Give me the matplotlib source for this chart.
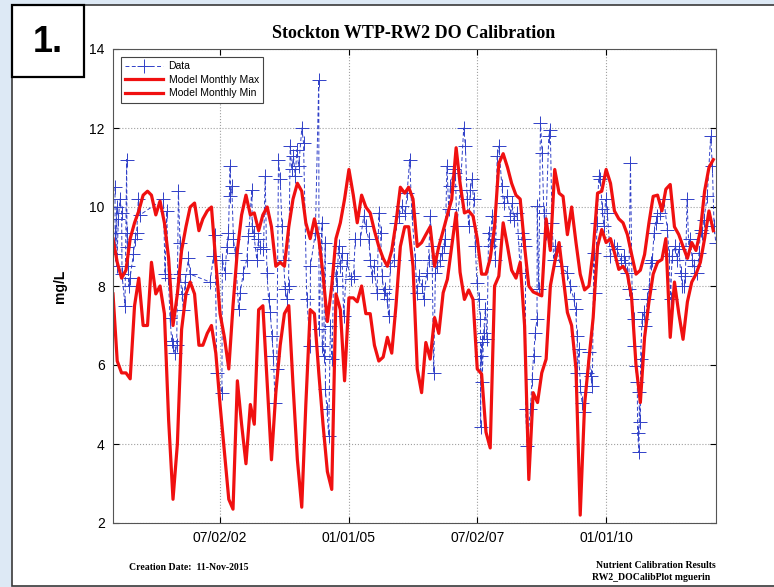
import numpy as np
import pandas as pd
import matplotlib
matplotlib.use('Agg')
import matplotlib.pyplot as plt
import matplotlib.dates as mdates
from matplotlib.patches import Rectangle

plt.rcParams['font.family'] = ['Liberation Sans', 'DejaVu Sans']

# monthly model output, first month = 2000-06
model_start = '2000-06-01'
model_max = [9.2, 8.6, 8.2, 8.4, 9.2, 9.6, 9.9, 10.3, 10.4, 10.3,
             9.8, 10.15, 9.6, 8.7, 7.0, 7.8, 8.9, 9.5, 10.0, 10.1,
             9.4, 9.7, 9.9, 10.0, 8.6, 7.3, 6.7, 5.9, 7.5, 8.9,
             9.8, 10.3, 9.8, 9.85, 9.4, 9.8, 10.0, 9.5, 8.5, 8.6,
             8.5, 9.5, 10.2, 10.6, 10.4, 9.6, 9.2, 9.7, 9.2, 8.3,
             7.1, 8.0, 9.2, 9.6, 10.2, 10.95, 10.3, 9.6, 10.3, 10.0,
             9.85, 9.4, 9.0, 8.7, 8.5, 8.9, 9.6, 10.5, 10.35, 10.5,
             10.2, 9.0, 9.1, 9.3, 9.5, 8.5, 9.0, 9.4, 9.8, 10.2,
             11.5, 10.6, 9.85, 9.9, 9.77, 9.2, 8.3, 8.3, 8.7, 9.5,
             11.1, 11.35, 11.0, 10.6, 10.3, 10.2, 9.0, 8.0, 7.85, 7.8,
             7.75, 9.7, 8.9, 10.95, 10.35, 10.27, 9.3, 10.0, 9.1, 8.3,
             7.9, 8.0, 8.9, 10.35, 10.4, 10.95, 10.6, 9.9, 9.7, 9.6,
             9.3, 8.8, 8.3, 8.4, 8.8, 9.6, 10.27, 10.3, 9.9, 10.45,
             10.57, 9.5, 9.3, 9.0, 8.7, 9.1, 8.9, 9.4, 10.4, 11.0,
             11.2]
model_min = [7.8, 6.1, 5.8, 5.8, 5.65, 7.5, 8.2, 7.0, 7.0, 8.6,
             7.8, 8.0, 7.3, 4.6, 2.6, 4.0, 6.9, 7.8, 8.1, 7.8,
             6.5, 6.5, 6.8, 7.0, 6.3, 5.0, 3.8, 2.6, 2.35, 5.6,
             4.5, 3.5, 5.0, 4.5, 7.4, 7.5, 5.5, 3.6, 5.3, 6.5,
             7.3, 7.5, 5.5, 3.6, 2.4, 5.0, 7.4, 7.3, 5.8, 4.5,
             3.3, 2.85, 7.8, 7.4, 5.6, 7.7, 7.7, 7.6, 8.0, 7.3,
             7.3, 6.5, 6.1, 6.2, 6.7, 6.3, 7.5, 9.0, 9.5, 9.5,
             8.5, 5.9, 5.3, 6.57, 6.15, 7.2, 6.8, 7.83, 8.17, 9.0,
             9.85, 8.35, 7.66, 7.9, 7.66, 5.9, 5.77, 4.3, 3.9, 8.0,
             8.25, 9.6, 9.0, 8.4, 8.2, 8.6, 7.0, 3.1, 5.3, 5.05,
             5.8, 6.15, 8.0, 8.6, 9.1, 8.25, 7.33, 7.0, 5.9, 2.2,
             5.0, 6.15, 7.2, 9.0, 9.43, 9.1, 9.2, 8.85, 8.42, 8.5,
             8.3, 7.7, 6.0, 5.05, 6.7, 7.6, 8.3, 8.6, 8.67, 9.2,
             6.7, 8.1, 7.3, 6.65, 7.6, 8.1, 8.3, 8.6, 9.2, 9.9,
             9.4]

# observed DO, time in months after 2000-06-01
data_month = [0.47, 0.5, 0.55, 0.86, 0.9, 1.25, 1.63, 2.02, 2.1, 2.8,
              3.19, 3.25, 3.3, 3.58, 3.65, 3.97, 4.75, 5.14, 5.52, 5.91,
              6.3, 11.75, 12.14, 12.53, 12.92, 13.3, 13.7, 14.1, 14.5, 14.86,
              15.25, 15.64, 15.7, 16.03, 16.42, 16.8, 17.6, 17.98, 22.65, 23.43,
              23.8, 24.2, 25.4, 25.5, 26.15, 26.54, 26.93, 27.32, 27.4, 27.7,
              28.1, 28.5, 29.3, 29.65, 30.43, 31.2, 31.6, 32.4, 32.45, 32.8,
              33.55, 33.93, 34.3, 35.1, 35.5, 35.9, 36.3, 36.7, 37.05, 37.4,
              37.8, 38.2, 38.6, 39.0, 39.4, 39.77, 40.16, 40.55, 40.94, 41.33,
              41.7, 42.1, 42.5, 42.9, 43.3, 44.05, 44.44, 45.2, 46.0, 46.05,
              47.2, 48.0, 48.05, 48.75, 48.8, 49.1, 49.5, 49.55, 49.9, 50.3,
              50.7, 51.1, 51.5, 51.9, 52.25, 52.6, 53.0, 53.4, 53.8, 54.6,
              55.4, 56.1, 56.5, 57.7, 58.5, 58.9, 59.65, 60.0, 60.4, 60.8,
              61.6, 62.0, 62.4, 62.8, 63.15, 63.5, 63.9, 64.3, 64.7, 65.5,
              65.9, 66.65, 67.4, 68.2, 68.6, 69.2, 69.7, 70.5, 70.9, 71.3,
              72.07, 72.45, 73.2, 73.6, 74.0, 74.4, 74.8, 75.2, 75.6, 76.35,
              76.7, 77.1, 77.5, 77.9, 78.3, 78.7, 79.5, 79.85, 80.2, 81.0,
              81.8, 82.2, 82.6, 82.96, 83.35, 83.7, 84.1, 84.5, 84.9, 85.3,
              85.7, 85.75, 85.8, 86.07, 86.1, 86.46, 86.85, 87.24, 87.6, 88.0,
              88.4, 88.8, 89.2, 89.6, 90.0, 90.7, 91.1, 91.9, 92.7, 93.1,
              93.5, 94.25, 95.0, 95.4, 95.8, 96.2, 96.25, 96.6, 97.36, 97.75,
              98.1, 98.5, 98.9, 98.95, 99.3, 99.7, 100.1, 100.5, 100.9, 101.64,
              102.0, 102.4, 102.8, 103.2, 104.4, 105.9, 106.7, 107.5, 107.9, 108.25,
              108.3, 108.6, 109.0, 109.4, 109.8, 110.2, 110.6, 111.0, 111.4, 111.8,
              112.15, 112.5, 112.9, 113.3, 113.7, 114.1, 114.5, 114.9, 115.3, 116.0,
              116.8, 117.6, 118.4, 119.15, 119.5, 119.9, 120.3, 120.7, 121.1, 121.5,
              121.55, 121.9, 122.3, 122.35, 122.7, 122.75, 123.0, 123.05, 123.4, 123.8,
              124.2, 124.6, 125.0, 125.4, 125.8, 126.2, 126.55, 126.9, 127.7, 128.5,
              129.3, 129.7, 130.05, 130.4, 131.2, 131.6, 132.0, 132.4, 132.8, 133.2,
              133.5, 133.9, 134.3, 134.7, 135.1, 135.5, 136.3, 136.7, 137.05, 137.4,
              137.8, 138.6, 139.4, 139.8, 140.2, 140.6]
data_do = [10.5, 9.35, 8.8, 10.0, 8.5, 9.7, 10.2, 9.85, 8.3, 7.5,
           11.2, 9.35, 9.0, 8.5, 8.0, 8.2, 8.8, 9.2, 9.35, 10.2,
           9.8, 10.2, 8.3, 9.9, 8.2, 7.2, 6.6, 6.5, 6.3, 6.5,
           10.4, 9.1, 8.3, 7.8, 7.4, 8.1, 8.7, 8.3, 8.1, 8.76,
           9.3, 5.8, 5.3, 8.67, 8.34, 9.0, 9.35, 11.03, 10.27, 10.53,
           9.18, 8.84, 7.41, 7.83, 8.34, 8.67, 9.26, 10.44, 9.52, 9.35,
           8.67, 9.18, 9.0, 8.93, 10.78, 8.34, 7.66, 7.33, 6.74, 6.23,
           5.05, 5.9, 11.2, 10.7, 9.52, 8.67, 7.92, 7.66, 8.0, 11.54,
           10.95, 11.28, 10.78, 11.45, 11.03, 12.0, 11.62, 7.66, 6.48, 8.5,
           9.35, 13.22, 6.9, 9.6, 6.48, 6.23, 9.09, 5.39, 4.88, 4.21,
           6.99, 6.15, 8.59, 8.25, 8.0, 9.01, 8.5, 8.84, 7.24, 8.67,
           8.17, 8.25, 9.18, 9.18, 9.77, 9.52, 9.18, 8.67, 8.25, 8.5,
           7.83, 9.85, 9.35, 8.25, 7.83, 7.92, 7.66, 7.24, 8.5, 8.67,
           9.6, 9.77, 10.02, 9.85, 10.36, 11.2, 9.85, 8.67, 7.83, 8.25,
           8.0, 7.66, 8.34, 8.67, 9.77, 9.01, 5.81, 8.34, 8.5, 8.67,
           8.84, 9.01, 9.18, 11.03, 9.94, 10.53, 10.95, 10.86, 9.52, 10.44,
           12.0, 11.54, 10.19, 9.52, 10.44, 10.7, 10.19, 9.01, 8.08, 7.66,
           7.16, 4.42, 6.23, 6.57, 5.56, 6.82, 7.41, 6.65, 9.35, 9.01,
           9.77, 9.18, 8.67, 11.28, 11.54, 10.53, 10.1, 10.27, 9.77, 10.1,
           9.68, 9.85, 8.34, 9.35, 9.18, 9.01, 4.88, 3.96, 4.88, 5.64,
           6.23, 6.82, 7.16, 10.02, 7.92, 12.13, 11.37, 9.85, 9.35, 11.79,
           11.96, 9.6, 8.67, 9.01, 8.5, 8.34, 8.0, 7.66, 7.41, 6.74,
           5.81, 6.4, 5.47, 5.05, 4.8, 5.31, 5.81, 6.32, 5.73, 5.47,
           8.84, 7.83, 9.6, 10.78, 10.7, 9.94, 9.52, 10.19, 9.85, 8.76,
           9.01, 8.93, 8.67, 8.76, 8.59, 8.34, 7.92, 11.12, 7.66, 7.16,
           6.48, 5.98, 5.56, 4.29, 3.79, 5.31, 4.55, 6.15, 7.16, 7.33,
           6.99, 7.66, 7.92, 8.59, 8.67, 9.35, 9.6, 9.77, 9.85, 10.19,
           9.43, 8.76, 7.66, 8.76, 9.01, 8.67, 8.93, 8.34, 8.0, 8.0,
           8.25, 10.19, 9.01, 9.18, 8.67, 8.5, 8.34, 8.84, 9.43, 9.35,
           9.68, 10.27, 11.79, 11.03, 9.52, 9.1]

tick_dates = ['2002-07-02', '2005-01-01', '2007-07-02', '2010-01-01']

start = pd.Timestamp(model_start)
model_dates = pd.date_range(start, periods=len(model_max), freq='MS')
data_dates = start + pd.to_timedelta(np.array(data_month) * 30.4375, unit='D')

W, H = 774, 587
fig = plt.figure(figsize=(W / 100, H / 100), dpi=100)
fig.patch.set_facecolor('#dde9f5')

# white page with the "1." tag box (behind the axes)
fig.add_artist(Rectangle((12 / W, 1 / H), 770 / W, 581 / H, transform=fig.transFigure,
                         facecolor='white', edgecolor='#3a3a3a', lw=1.2, zorder=-2))
fig.add_artist(Rectangle((12 / W, 1 - 77 / H), 72 / W, 72 / H, transform=fig.transFigure,
                         facecolor='white', edgecolor='black', lw=1.6, zorder=-1))
fig.text(48 / W, 1 - 42 / H, '1.', ha='center', va='center', fontsize=26, fontweight='bold')

ax = fig.add_axes([113 / W, 1 - 523 / H, 603 / W, 474 / H])

blue = '#3040c8'
ax.plot(data_dates, data_do, linestyle='--', dashes=(4, 2.5), color=blue, lw=0.7,
        marker='+', markersize=10, markeredgewidth=0.7, label='Data')
ax.plot(model_dates, model_max, color='#f01010', lw=2.3, label='Model Monthly Max')
ax.plot(model_dates, model_min, color='#f01010', lw=2.3, label='Model Monthly Min')

ax.set_ylim(2, 14)
ax.set_yticks(range(2, 15, 2))
ax.set_xlim(pd.Timestamp('2000-06-01'), pd.Timestamp('2012-02-20'))
ax.set_xticks(pd.to_datetime(tick_dates))
ax.xaxis.set_major_formatter(mdates.DateFormatter('%m/%d/%y'))
ax.tick_params(direction='in', top=True, right=True, length=4, labelsize=10, pad=6)
ax.grid(True, linestyle=':', color='#a0a0a0', lw=0.8)
for sp in ax.spines.values():
    sp.set_color('#555555')
    sp.set_linewidth(0.8)

ax.set_ylabel('mg/L', fontsize=10, fontweight='bold')
ax.yaxis.set_label_coords(-0.076, 0.5)

leg = ax.legend(loc='upper left', bbox_to_anchor=(7.7 / 603, 1 - 8 / 474), borderaxespad=0,
                fontsize=7.5, fancybox=False, edgecolor='#444444', framealpha=1,
                handlelength=3.7, labelspacing=0.35, borderpad=0.4, handletextpad=0.5)
leg.get_frame().set_linewidth(0.8)

fig.text(414 / W, 1 - 33 / H, 'Stockton WTP-RW2 DO Calibration', ha='center', va='center',
         fontfamily='Liberation Serif', fontweight='bold', fontsize=13)
fig.text(129 / W, 1 - 567 / H, 'Creation Date:  11-Nov-2015', ha='left', va='center',
         fontfamily='Liberation Serif', fontweight='bold', fontsize=7)
fig.text(716 / W, 1 - 566 / H, 'Nutrient Calibration Results', ha='right', va='center',
         fontfamily='Liberation Serif', fontweight='bold', fontsize=7)
fig.text(710 / W, 1 - 577 / H, 'RW2_DOCalibPlot mguerin', ha='right', va='center',
         fontfamily='Liberation Serif', fontweight='bold', fontsize=7)

fig.savefig('out.png', dpi=100, facecolor=fig.get_facecolor())
